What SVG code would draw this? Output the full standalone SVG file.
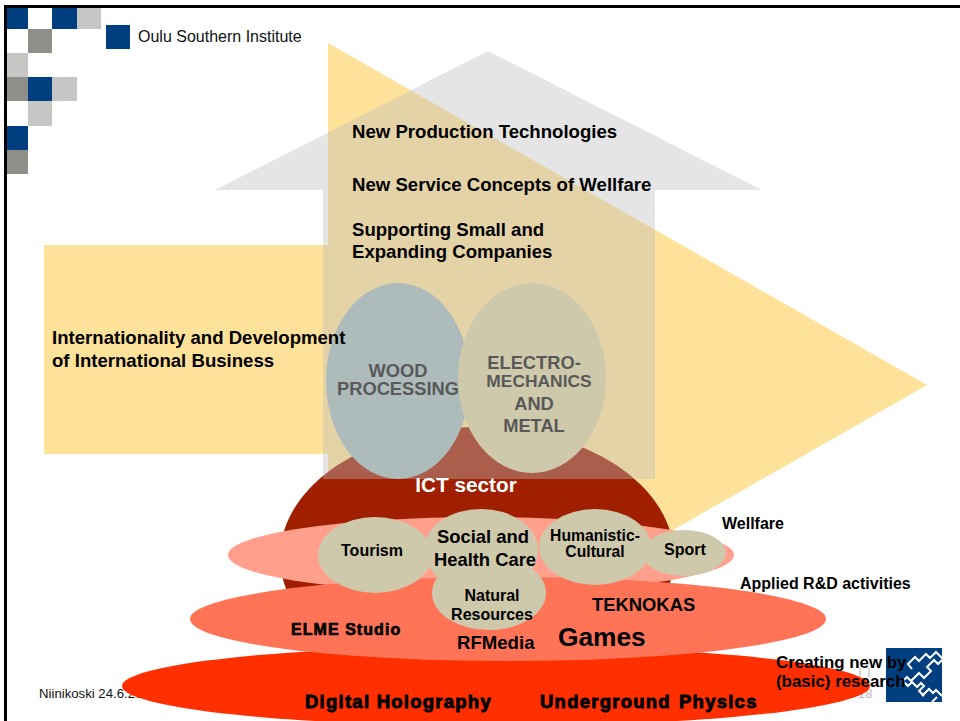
<svg xmlns="http://www.w3.org/2000/svg" width="960" height="721" viewBox="0 0 960 721">
<style>
text{font-family:"Liberation Sans",Arial,sans-serif;font-weight:bold;fill:#000}
.t18{font-size:18.6px}.t16{font-size:16px}
.heavy{stroke:#000;stroke-width:.9px;letter-spacing:1.25px;font-size:18.5px}
.gr{fill:#595959;font-size:18.3px;text-anchor:middle}
.m{text-anchor:middle}
.tan{fill:#cfc9ac}
.b{fill:#003f7f}.g{fill:#8f8f8a}.l{fill:#c6c6c4}
</style>
<rect width="960" height="721" fill="#fff"/>
<g id="frame"><rect x="4" y="5" width="956" height="3"/><rect x="4" y="5" width="3" height="716"/></g>
<g id="checker">
<rect class="b" x="7" y="8" width="21" height="21"/><rect class="b" x="52" y="8" width="25" height="21"/><rect class="l" x="77" y="8" width="24" height="21"/>
<rect class="g" x="28" y="29" width="24" height="24"/><rect class="l" x="7" y="53" width="21" height="24"/>
<rect class="g" x="7" y="77" width="21" height="24"/><rect class="b" x="28" y="77" width="24" height="24"/><rect class="l" x="52" y="77" width="25" height="24"/>
<rect class="l" x="28" y="101" width="24" height="25"/><rect class="b" x="7" y="126" width="21" height="24"/><rect class="g" x="7" y="150" width="21" height="24"/>
<rect class="b" x="106" y="25" width="24" height="24"/>
</g>
<text x="138" y="42" style="font-weight:normal;font-size:16px;fill:#111">Oulu Southern Institute</text>
<text x="39" y="698" style="font-weight:normal;font-size:13.2px;fill:#111">Niinikoski 24.6.20</text>
<text x="858" y="698" style="font-weight:normal;font-size:13px;fill:#bbb">18</text>
<path d="M860,668v9M869,668v9" stroke="#ccc" stroke-width="1.5" fill="none"/>
<g id="arrow"><polygon points="44,245 328,245 328,43 927,385 328,727 328,454 44,454" fill="#ffe299"/></g>
<g id="ict"><ellipse cx="477" cy="557" rx="197" ry="130" fill="#a01f00"/></g>
<g id="house"><polygon points="488,51 762,190 655,190 655,479 323,479 323,190 215,190" fill="#bfbfbf" fill-opacity=".4"/></g>
<g id="wood"><ellipse cx="398" cy="381" rx="72" ry="98" fill="#adbbbb"/><text class="gr"><tspan x="398" y="377">WOOD</tspan><tspan x="398" y="395">PROCESSING</tspan></text></g>
<g id="electro"><ellipse cx="532" cy="378" rx="74" ry="95" fill="#cfc9ac"/><text class="gr"><tspan x="534" y="369">ELECTRO-</tspan><tspan x="539" y="387" style="font-size:17.4px">MECHANICS</tspan><tspan x="534" y="410">AND</tspan><tspan x="534" y="432">METAL</tspan></text></g>
<g id="basic-layer"><ellipse cx="496" cy="686" rx="374" ry="40" fill="#ff2f00"/></g>
<g id="wellfare-layer"><ellipse cx="481" cy="555" rx="253" ry="38" fill="#ff9f8c"/></g>
<g id="applied-layer"><ellipse cx="508" cy="619" rx="318" ry="42" fill="#ff7357"/></g>
<g id="tourism"><ellipse class="tan" cx="375" cy="555" rx="57" ry="38"/><text class="t16 m" x="372" y="556">Tourism</text></g>
<g id="social"><ellipse class="tan" cx="481" cy="550" rx="57" ry="41"/></g>
<g id="natural"><ellipse class="tan" cx="489" cy="593" rx="57" ry="37"/><text class="t16 m"><tspan x="492" y="601">Natural</tspan><tspan x="492" y="620">Resources</tspan></text></g>
<text class="m" style="font-size:18.4px"><tspan x="483" y="543">Social and</tspan><tspan x="485" y="566">Health Care</tspan></text>
<g id="humanistic"><ellipse class="tan" cx="595" cy="547" rx="56" ry="38"/><text class="m" style="font-size:15.7px"><tspan x="595" y="541">Humanistic-</tspan><tspan x="595" y="557">Cultural</tspan></text></g>
<g id="sport"><ellipse class="tan" cx="684" cy="553" rx="42" ry="23"/><text class="t16 m" x="685" y="555">Sport</text></g>
<text class="m" x="466" y="492" style="font-size:20.8px;fill:#fff">ICT sector</text>
<text class="t18" x="352" y="138">New Production Technologies</text>
<text class="t18" x="352" y="191">New Service Concepts of Wellfare</text>
<text class="t18"><tspan x="352" y="236">Supporting Small and</tspan><tspan x="352" y="258">Expanding Companies</tspan></text>
<text class="t18"><tspan x="52" y="344">Internationality and Development</tspan><tspan x="52" y="367">of International Business</tspan></text>
<text class="t16" x="722" y="529">Wellfare</text>
<text class="t16" x="740" y="589">Applied R&amp;D activities</text>
<text x="592" y="611" style="font-size:18.4px">TEKNOKAS</text>
<text x="291" y="635" style="font-size:16px;stroke:#000;stroke-width:.7px;letter-spacing:1.05px">ELME Studio</text>
<text class="t18" x="457" y="649">RFMedia</text>
<text x="558" y="646" style="font-size:26.3px">Games</text>
<text class="heavy" x="305" y="708">Digital Holography</text>
<text class="heavy" x="540" y="708">Underground</text>
<text class="heavy" x="679" y="708">Physics</text>
<g id="logo"><rect x="886" y="648" width="56" height="54" fill="#003f7f"/><path d="M912,669l-4,-5l7,-7l4,4l7,-7l4,4l6,-6l7,7M942,660l-4,4l-4,-4l-7,7l4,4l-7,7l-5,-5l-8,8l-4,-4l-4,4l5,5l4,-4l5,5l4,-4l3,3l-5,5l5,5M922,696l7,-7l4,4l3,-3l6,6M932,702l5,-5" fill="none" stroke="#fff" stroke-width="2"/></g>
<text style="font-size:16.9px"><tspan x="776" y="668">Creating new by</tspan><tspan x="776" y="687">(basic) research</tspan></text>
</svg>
